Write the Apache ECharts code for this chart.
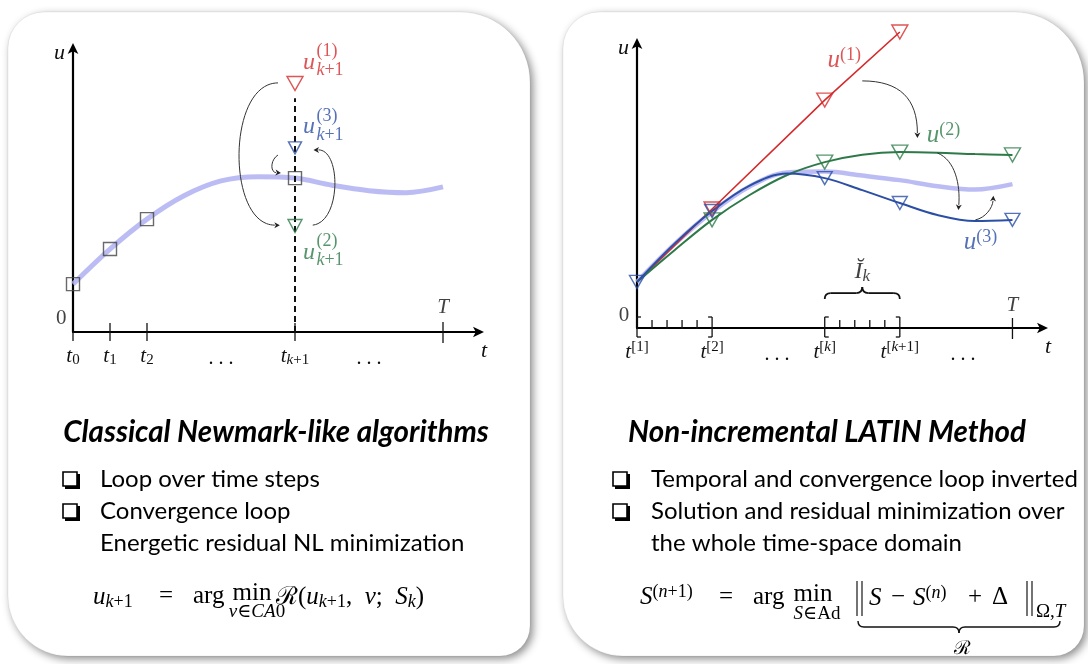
<!DOCTYPE html>
<html><head><meta charset="utf-8">
<script src="https://cdn.jsdelivr.net/npm/echarts@6/dist/echarts.min.js"></script>
<style>html,body{margin:0;padding:0;background:#fff}#c{width:1088px;height:664px}</style>
</head><body><div id="c"></div><script>
// ================= DATA =================
// Left panel: classical time stepping
const leftCurveT = [0, 1, 2, 3, 4, 5, 6, 7, 8, 9, 10];
const leftCurveU = [1.68, 2.91, 3.96, 4.78, 5.30, 5.45, 5.40, 5.15, 4.96, 4.89, 5.09];
const leftStepT = [0, 1, 2, 6];
const leftStepU = [1.68, 2.91, 3.96, 5.40];
const iterT = 6;
const iterRedU = 8.72, iterGreenU = 3.72, iterBlueU = 6.46;
const dashTopU = 8.2;
const leftTickT = [0, 1, 2, 6, 10];
const leftTickKind = [1, 0, 0, 0, 5];
const leftLabelT = [0, 1, 2, 4, 6, 8];
const leftLabelText = ['0', '1', '2', '…', 'k+1', '…'];
// arrows: [t0,u0, c1t,c1u, c2t,c2u, t1,u1]
const leftArrows = [
  [5.54, 8.74, 4.15, 8.74, 4.15, 3.75, 5.59, 3.75],
  [6.48, 3.75, 7.25, 3.86, 7.25, 6.39, 6.50, 6.39],
  [5.54, 6.21, 5.33, 6.04, 5.33, 5.61, 5.62, 5.58]
];
// Right panel: LATIN
const rightNodeT = [0, 5, 12.5, 17.5, 25];
const redU = [1.61, 4.16, 7.97, 10.35];
const greenNodeU = [1.61, 3.78, 5.80, 6.15, 6.05];
const curveT = [0, 2.5, 5, 7.5, 10, 12.5, 15, 17.5, 20, 22.5, 25];
const greenU = [1.61, 2.72, 3.78, 4.65, 5.35, 5.80, 6.06, 6.15, 6.13, 6.08, 6.05];
const blueU = [1.61, 2.95, 4.09, 4.98, 5.40, 5.24, 4.82, 4.37, 3.95, 3.74, 3.78];
const blueNodeU = [1.61, 4.09, 5.24, 4.37, 3.78];
const refU = [1.61, 2.93, 4.06, 4.95, 5.44, 5.47, 5.33, 5.17, 4.96, 4.84, 5.03];
const rightTickT = [0, 1, 2, 3, 4, 5, 12.5, 13.5, 14.5, 15.5, 16.5, 17.5, 25];
const rightTickKind = [3, 2, 2, 2, 2, 4, 3, 2, 2, 2, 2, 4, 5];
const rightLabelT = [0, 5, 9.33, 12.5, 17.5, 21.7];
const rightLabelText = ['1', '2', '…', 'k', 'k+1', '…'];
const rightArrows = [
  [15.0, 8.64, 17.53, 8.64, 18.67, 8.0, 18.67, 6.64],
  [20.0, 6.12, 21.2, 5.87, 21.53, 5.0, 21.4, 4.13],
  [22.53, 3.78, 23.2, 3.85, 23.67, 4.2, 23.73, 4.62]
];
const braceSpan = [12.5, 17.5, 1.22];

// ================= STYLE =================
const SERIF = "'Liberation Serif','DejaVu Serif',serif";
const SANS = "Lato,'Open Sans',sans-serif";
const RED = '#d42a2c', GREEN = '#2d7a48', BLUE = '#2b4fa5', LAV = 'rgba(176,176,242,0.85)';
function mkRich(M, S, sh) {
  return {
    i: {fontFamily: SERIF, fontStyle: 'italic', fontSize: M, lineHeight: M + 3},
    r: {fontFamily: SERIF, fontSize: M, lineHeight: M + 3},
    bi: {fontFamily: SERIF, fontStyle: 'italic', fontSize: S, lineHeight: S, padding: [sh, 0, 0, 0], verticalAlign: 'bottom'},
    br: {fontFamily: SERIF, fontSize: S, lineHeight: S, padding: [sh, 0, 0, 0], verticalAlign: 'bottom'},
    pi: {fontFamily: SERIF, fontStyle: 'italic', fontSize: S, lineHeight: S, padding: [0, 0, sh, 0], verticalAlign: 'top'},
    pr: {fontFamily: SERIF, fontSize: S, lineHeight: S, padding: [0, 0, sh, 0], verticalAlign: 'top'},
    si: {fontFamily: SERIF, fontStyle: 'italic', fontSize: S + 1, lineHeight: S + 2},
    sr: {fontFamily: SERIF, fontSize: S + 1, lineHeight: S + 2},
    d: {fontFamily: SERIF, fontSize: M - 1, lineHeight: M + 3, padding: [6, 0, 0, 0]}
  };
}
const rich = mkRich(21, 15, 11);
const richB = mkRich(24, 17, 12);
const richF = mkRich(25, 18, 12);
const zip = (a, b) => a.map((v, i) => [v, b[i]]);

function subLabel(s) {
  if (s === '…') return '{d|. . .}';
  return '{i|t}' + s.split(/(\d+|\+)/).filter(x => x).map(x => /[a-z]/.test(x) ? '{bi|' + x + '}' : '{br|' + x + '}').join('');
}
function supLabel(s) {
  if (s === '…') return '{d|. . .}';
  return '{i|t}{pr|[}' + s.split(/(\d+|\+)/).filter(x => x).map(x => /[a-z]/.test(x) ? '{pi|' + x + '}' : '{pr|' + x + '}').join('') + '{pr|]}';
}

function tickItem(params, api) {
  const p = api.coord([api.value(0), 0]);
  const k = api.value(1);
  const st = {stroke: '#111', lineWidth: 1.3};
  const L = (a, b, c, d) => ({type: 'line', shape: {x1: a, y1: b, x2: c, y2: d}, style: st});
  const x = p[0], y = p[1];
  if (k === 0) return L(x, y - 9, x, y + 9);
  if (k === 1) return L(x, y, x, y + 9);
  if (k === 2) return L(x, y - 8, x, y + 1);
  if (k === 5) return L(x, y - 10, x, y + 11);
  const s = k === 3 ? 4 : -4;
  return {type: 'group', children: [L(x, y - 11, x, y + 9), L(x, y - 11, x + s, y - 11), L(x, y + 9, x + s, y + 9)]};
}
function arrowItem(params, api) {
  const P = i => api.coord([api.value(i), api.value(i + 1)]);
  const p0 = P(0), c1 = P(2), c2 = P(4), p1 = P(6);
  const dx = p1[0] - c2[0], dy = p1[1] - c2[1], L = Math.hypot(dx, dy) || 1;
  const ux = dx / L, uy = dy / L, len = 7, hw = 3;
  const b = [p1[0] - ux * len, p1[1] - uy * len];
  return {type: 'group', children: [
    {type: 'bezierCurve', shape: {x1: p0[0], y1: p0[1], cpx1: c1[0], cpy1: c1[1], cpx2: c2[0], cpy2: c2[1], x2: b[0] + ux * 2, y2: b[1] + uy * 2}, style: {stroke: '#333', lineWidth: 1, fill: 'none'}},
    {type: 'polygon', shape: {points: [p1, [b[0] - uy * hw + ux * 1.5, b[1] + ux * hw + uy * 1.5], [b[0] + ux * 3, b[1] + uy * 3], [b[0] + uy * hw + ux * 1.5, b[1] - ux * hw + uy * 1.5]]}, style: {fill: '#222'}}
  ]};
}
function braceParts(x1, x2, y, h, dir, st) {
  const xm = (x1 + x2) / 2;
  const Q = (a, b, c, d, e, f) => ({type: 'bezierCurve', shape: {x1: a, y1: b, cpx1: c, cpy1: d, x2: e, y2: f}, style: st});
  const Ln = (a, b, c, d) => ({type: 'line', shape: {x1: a, y1: b, x2: c, y2: d}, style: st});
  return [
    Q(x1, y + dir * h, x1, y, x1 + h, y), Ln(x1 + h, y, xm - h, y), Q(xm - h, y, xm, y, xm, y - dir * h),
    Q(xm, y - dir * h, xm, y, xm + h, y), Ln(xm + h, y, x2 - h, y), Q(x2 - h, y, x2, y, x2, y + dir * h)
  ];
}
function braceItem(params, api) {
  const a = api.coord([api.value(0), api.value(2)]), b = api.coord([api.value(1), api.value(2)]);
  return {type: 'group', children: braceParts(a[0], b[0], a[1], 6, 1, {stroke: '#111', lineWidth: 1.8, fill: 'none'})};
}
function note(t, u, text, color, extra, rs) {
  return {value: [t, u], label: Object.assign({show: true, position: 'inside', formatter: text, color: color || '#111', rich: rs || rich, fontFamily: SERIF, fontSize: 21}, extra || {})};
}
function noteSeries(xi, items) {
  return {type: 'scatter', xAxisIndex: xi, yAxisIndex: xi, symbolSize: 1, itemStyle: {color: 'rgba(0,0,0,0)'}, clip: false, silent: true, z: 10, data: items};
}
function tri(xi, pts, color, size) {
  return {type: 'scatter', xAxisIndex: xi, yAxisIndex: xi, symbol: 'triangle', symbolRotate: 180, symbolSize: size, clip: false, z: 6,
    itemStyle: {color: 'rgba(255,255,255,0)', borderColor: color, borderWidth: 1.4}, data: pts};
}
function curve(xi, data, color, width, z) {
  return {type: 'line', xAxisIndex: xi, yAxisIndex: xi, data: data, smooth: 0.35, symbol: 'none', showSymbol: false, clip: false, lineStyle: {color: color, width: width}, z: z};
}

const axisLineStyle = {lineStyle: {color: '#000', width: 2.2}, symbol: ['none', 'arrow'], symbolSize: [8, 11], symbolOffset: [0, 4]};
const nameStyleX = {fontFamily: SERIF, fontStyle: 'italic', fontSize: 22, color: '#111', align: 'center', verticalAlign: 'top', padding: [8, 0, 0, 0]};
const nameStyleY = {fontFamily: SERIF, fontStyle: 'italic', fontSize: 22, color: '#111', align: 'right', verticalAlign: 'middle', padding: [0, 8, 0, 0]};

const option = {
  animation: false,
  backgroundColor: '#ffffff',
  grid: [
    {left: 73, top: 47, width: 407, height: 285},
    {left: 637, top: 42, width: 407, height: 286}
  ],
  xAxis: [
    {gridIndex: 0, type: 'value', min: 0, max: 11, axisLine: axisLineStyle, axisTick: {show: false}, splitLine: {show: false},
      axisLabel: {customValues: leftLabelT, margin: 12, formatter: v => subLabel(leftLabelText[leftLabelT.indexOf(v)]), rich: rich, color: '#111'},
      name: 't', nameLocation: 'end', nameGap: 4, nameTextStyle: nameStyleX},
    {gridIndex: 1, type: 'value', min: 0, max: 27.1, axisLine: axisLineStyle, axisTick: {show: false}, splitLine: {show: false},
      axisLabel: {customValues: rightLabelT, margin: 12, formatter: v => supLabel(rightLabelText[rightLabelT.indexOf(v)]), rich: rich, color: '#111'},
      name: 't', nameLocation: 'end', nameGap: 4, nameTextStyle: nameStyleX}
  ],
  yAxis: [
    {gridIndex: 0, type: 'value', min: 0, max: 10, axisLine: axisLineStyle, axisTick: {show: false}, axisLabel: {show: false}, splitLine: {show: false},
      name: 'u', nameLocation: 'end', nameGap: -6, nameTextStyle: nameStyleY},
    {gridIndex: 1, type: 'value', min: 0, max: 10, axisLine: axisLineStyle, axisTick: {show: false}, axisLabel: {show: false}, splitLine: {show: false},
      name: 'u', nameLocation: 'end', nameGap: -6, nameTextStyle: nameStyleY}
  ],
  graphic: [],
  series: [
    // ---------- left ----------
    curve(0, zip(leftCurveT, leftCurveU), LAV, 5, 3),
    {type: 'scatter', xAxisIndex: 0, yAxisIndex: 0, symbol: 'rect', symbolSize: 13, data: zip(leftStepT, leftStepU), z: 5,
      itemStyle: {color: 'rgba(255,255,255,0)', borderColor: '#444', borderWidth: 1.4}},
    tri(0, [[iterT, iterRedU]], RED, [16, 14]),
    tri(0, [[iterT, iterBlueU]], BLUE, [13, 12]),
    tri(0, [[iterT, iterGreenU]], GREEN, [14, 13]),
    {type: 'line', xAxisIndex: 0, yAxisIndex: 0, data: [[iterT, 0], [iterT, dashTopU]], symbol: 'none', lineStyle: {color: '#111', width: 2, type: [6, 4]}, z: 4},
    {type: 'custom', xAxisIndex: 0, yAxisIndex: 0, renderItem: tickItem, data: zip(leftTickT, leftTickKind), z: 7, silent: true},
    {type: 'custom', xAxisIndex: 0, yAxisIndex: 0, renderItem: arrowItem, data: leftArrows, z: 7, silent: true},
    noteSeries(0, [
      note(-0.32, 0.49, '{r|0}'),
      note(10, 0.85, '{i|T}'),
      note(6.38, 9.45, '{i|u}', RED, null, richB),
      note(6.58, 9.50, '{sr|(1)}\n{si|k}{sr|+1}', RED, {align: 'left'}, richB),
      note(6.38, 7.19, '{i|u}', BLUE, null, richB),
      note(6.58, 7.24, '{sr|(3)}\n{si|k}{sr|+1}', BLUE, {align: 'left'}, richB),
      note(6.38, 2.77, '{i|u}', GREEN, null, richB),
      note(6.58, 2.84, '{sr|(2)}\n{si|k}{sr|+1}', GREEN, {align: 'left'}, richB)
    ]),
    // ---------- right ----------
    curve(1, zip(curveT, refU), LAV, 4.5, 3),
    {type: 'line', xAxisIndex: 1, yAxisIndex: 1, data: zip(rightNodeT.slice(0, 4), redU), symbol: 'none', clip: false, lineStyle: {color: RED, width: 1.6}, z: 4},
    curve(1, zip(curveT, greenU), GREEN, 2, 4),
    curve(1, zip(curveT, blueU), BLUE, 2, 4),
    tri(1, zip(rightNodeT.slice(1, 4), redU.slice(1)), RED, [16, 14]),
    tri(1, zip(rightNodeT.slice(1), greenNodeU.slice(1)), GREEN, [16, 14]),
    tri(1, zip(rightNodeT, blueNodeU), BLUE, [15, 13]),
    {type: 'custom', xAxisIndex: 1, yAxisIndex: 1, renderItem: tickItem, data: zip(rightTickT, rightTickKind), z: 7, silent: true},
    {type: 'custom', xAxisIndex: 1, yAxisIndex: 1, renderItem: arrowItem, data: rightArrows, z: 7, silent: true},
    {type: 'custom', xAxisIndex: 1, yAxisIndex: 1, renderItem: braceItem, data: [braceSpan], z: 7, silent: true},
    noteSeries(1, [
      note(-0.87, 0.45, '{r|0}'),
      note(25, 0.80, '{i|T}'),
      note(13.8, 9.37, '{i|u}{pr|(1)}', RED, null, richF),
      note(20.4, 6.75, '{i|u}{pr|(2)}', GREEN, null, richF),
      note(22.87, 3.0, '{i|u}{pr|(3)}', BLUE, null, richF),
      note(15.0, 1.96, '{i|Ĭ}{bi|k}', '#111', null, richB)
    ])
  ]
};

// ---------- panels & text (graphic) ----------
const G = option.graphic;
const panelStyle = {fill: '#fff', stroke: 'rgba(0,0,0,0.06)', lineWidth: 1, shadowBlur: 9, shadowColor: 'rgba(0,0,0,0.45)', shadowOffsetX: 3, shadowOffsetY: 3};
G.push({type: 'rect', z: -10, shape: {x: 8, y: 12, width: 522, height: 644, r: [36, 70, 30, 60]}, style: panelStyle});
G.push({type: 'rect', z: -10, shape: {x: 563, y: 12, width: 521, height: 644, r: [36, 70, 30, 60]}, style: panelStyle});

function txt(x, y, text, font, align, rs) {
  return {type: 'text', x: x, y: y, z: 5, style: {text: text, font: font, fill: '#000', textAlign: align || 'left', align: align || 'left', textVerticalAlign: 'middle', verticalAlign: 'middle', rich: rs || richF}};
}
function box(x, y) {
  G.push({type: 'rect', z: 5, shape: {x: x + 2, y: y + 2, width: 15, height: 15}, style: {fill: '#000'}});
  G.push({type: 'rect', z: 6, shape: {x: x, y: y, width: 14, height: 14}, style: {fill: '#fff', stroke: '#000', lineWidth: 1.6}});
}
const F = '25px ' + SERIF, FS = '17px ' + SERIF, BODY = '24px ' + SANS, TITLE = 'italic bold 29.5px ' + SANS;
// left text block
G.push(txt(276, 432, 'Classical Newmark-like algorithms', TITLE, 'center'));
box(63, 472); G.push(txt(100, 479, 'Loop over time steps', BODY));
box(63, 504); G.push(txt(100, 511, 'Convergence loop', BODY));
G.push(txt(100, 543, 'Energetic residual NL minimization', BODY));
// left formula
G.push(txt(93, 597, '{i|u}{bi|k}{br|+1}', F));
G.push(txt(166, 596, '{r|=}', F, 'center'));
G.push(txt(193, 596, '{r|arg}', F));
G.push(txt(252, 593, '{r|min}', F, 'center'));
G.push(txt(257, 612, '{si|v}{sr|∈}{si|CA}{sr|0}', FS, 'center'));
G.push(txt(276, 597, '{r|ℛ(}{i|u}{bi|k}{br|+1}{r|,  }{i|v}{r|;  }{i|S}{bi|k}{r|)}', F));
// right text block
G.push(txt(827, 432, 'Non-incremental LATIN Method', TITLE, 'center'));
box(613, 472); G.push(txt(651, 479, 'Temporal and convergence loop inverted', BODY));
box(613, 504); G.push(txt(651, 511, 'Solution and residual minimization over', BODY));
G.push(txt(651, 543, 'the whole time-space domain', BODY));
// right formula
G.push(txt(640, 597, '{i|S}{pr|(}{pi|n}{pr|+1)}', F));
G.push(txt(726, 597, '{r|=}', F, 'center'));
G.push(txt(753, 597, '{r|arg}', F));
G.push(txt(813, 594, '{r|min}', F, 'center'));
G.push(txt(817, 614, '{si|S}{sr|∈Ad}', FS, 'center'));
G.push(txt(869, 598, '{i|S}', F));
G.push(txt(898, 597, '{r|−}', F, 'center'));
G.push(txt(913, 598, '{i|S}{pr|(}{pi|n}{pr|)}', F));
G.push(txt(975, 597, '{r|+}', F, 'center'));
G.push(txt(992, 597, '{r|Δ}', F));
G.push(txt(1036, 612, '{sr|Ω,}{si|T}', FS));
[857, 862, 1027, 1032].forEach(x => G.push({type: 'line', z: 5, shape: {x1: x, y1: 581, x2: x, y2: 616}, style: {stroke: '#000', lineWidth: 1.1}}));
braceParts(858, 1060, 627, 6, -1, {stroke: '#111', lineWidth: 1.4, fill: 'none'}).forEach(p => G.push(Object.assign(p, {z: 5})));
G.push(txt(962, 649, '{sr|ℛ}', FS, 'center'));

const chart = echarts.init(document.getElementById('c'));
chart.setOption(option);
</script></body></html>
